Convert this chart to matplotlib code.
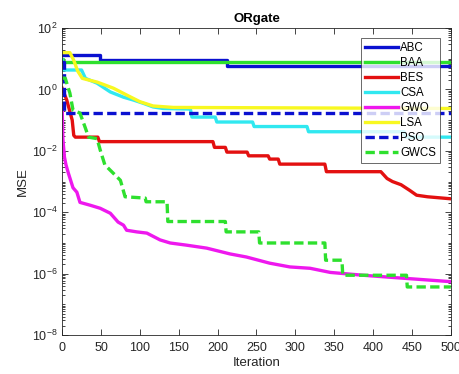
import matplotlib
matplotlib.use("Agg")
import matplotlib.pyplot as plt
import numpy as np
from matplotlib.ticker import LogLocator, FixedLocator, NullFormatter

plt.rcParams["font.family"] = ["Liberation Sans", "DejaVu Sans"]
plt.rcParams["mathtext.default"] = "regular"

# convergence curves (iteration, MSE)
abc_x = [0, 49, 212, 361, 500]
abc_y = [13, 9.2, 6.0, 5.6, 5.6]

baa_x = [0, 1, 500]
baa_y = [9.5, 7.6, 7.6]

bes_x = [0, 6, 13, 15, 17, 46, 48, 194, 196, 210, 212, 238, 240, 265, 267,
         278, 280, 338, 340, 410, 418, 425, 436, 447, 456, 470, 500]
bes_y = [1.1, 0.45, 0.1, 0.032, 0.028, 0.028, 0.02, 0.02, 0.013, 0.013,
         9.1e-3, 9.1e-3, 6.9e-3, 6.9e-3, 5.4e-3, 5.4e-3, 3.7e-3, 3.7e-3,
         2.1e-3, 2.1e-3, 1.26e-3, 1e-3, 7.9e-4, 5.2e-4, 3.6e-4, 3.2e-4, 2.75e-4]

csa_x = [0, 2, 25, 30, 45, 62, 79, 92, 105, 117, 130, 165, 167, 197, 199,
         245, 247, 315, 317, 440, 442, 500]
csa_y = [9.1, 4.3, 4.3, 2.3, 1.6, 0.83, 0.56, 0.45, 0.35, 0.27, 0.24, 0.23,
         0.126, 0.126, 0.087, 0.087, 0.062, 0.062, 0.042, 0.042, 0.028, 0.028]

gwo_x = [0, 1, 3, 5, 8, 14, 19, 23, 36, 49, 62, 72, 79, 83, 96, 109, 126,
         139, 160, 186, 216, 237, 267, 293, 319, 345, 387, 430, 500]
gwo_y = [0.32, 0.025, 6.3e-3, 3.5e-3, 1.9e-3, 6.3e-4, 4.5e-4, 2.1e-4,
         1.7e-4, 1.35e-4, 9.3e-5, 4.8e-5, 3.8e-5, 2.6e-5, 2.3e-5, 2.1e-5,
         1.26e-5, 1.0e-5, 8.5e-6, 6.8e-6, 4.4e-6, 3.5e-6, 2.2e-6, 1.66e-6,
         1.5e-6, 1.1e-6, 8.9e-7, 7.4e-7, 5.5e-7]

lsa_x = [0, 10, 15, 20, 26, 32, 45, 66, 83, 100, 117, 143, 500]
lsa_y = [15.8, 15.8, 8.9, 4.0, 2.3, 2.1, 1.74, 1.1, 0.66, 0.4, 0.29, 0.26, 0.24]

pso_x = [0, 2, 500]
pso_y = [8.0, 0.166, 0.166]

gwcs_x = [0, 4, 10, 14, 23, 30, 34, 45, 49, 55, 75, 81, 107, 108, 135, 136,
          210, 211, 253, 254, 338, 339, 360, 361, 443, 444, 500]
gwcs_y = [2.34, 2.34, 0.76, 0.214, 0.17, 0.055, 0.028, 0.025, 0.0107,
          3.5e-3, 1.1e-3, 3.2e-4, 2.9e-4, 2.2e-4, 2.2e-4, 5e-5, 5e-5, 2.3e-5,
          2.3e-5, 1e-5, 1e-5, 2.75e-6, 2.75e-6, 8.9e-7, 8.9e-7, 3.7e-7, 3.7e-7]

fig = plt.figure(figsize=(4.6, 3.74), dpi=100)
ax = fig.add_axes([0.135, 0.104, 0.845, 0.821])

lw = 2.4
dash = (2.8, 1.3)
ax.plot(abc_x, abc_y, color="#0a10d0", lw=lw, drawstyle="steps-post", label="ABC")
ax.plot(baa_x, baa_y, color="#2ee02e", lw=lw, drawstyle="steps-post", label="BAA")
ax.plot(bes_x, bes_y, color="#e31010", lw=lw, label="BES")
ax.plot(csa_x, csa_y, color="#30e8f0", lw=lw, label="CSA")
ax.plot(gwo_x, gwo_y, color="#ee18ee", lw=lw, label="GWO")
ax.plot(lsa_x, lsa_y, color="#f8f820", lw=lw, label="LSA")
ax.plot(pso_x, pso_y, color="#0a10d0", lw=lw, drawstyle="steps-post",
        dashes=dash, label="PSO")
ax.plot(gwcs_x, gwcs_y, color="#2ee02e", lw=lw, dashes=dash, label="GWCS")

ax.set_yscale("log")
ax.set_xlim(0, 500)
ax.set_ylim(1e-8, 1e2)
ax.set_xticks(np.arange(0, 501, 50))
ax.yaxis.set_major_locator(FixedLocator([1e-8, 1e-6, 1e-4, 1e-2, 1e0, 1e2]))
ax.yaxis.set_minor_locator(LogLocator(base=10, subs=np.arange(1, 10), numticks=30))
ax.yaxis.set_minor_formatter(NullFormatter())

grey = "#262626"
ax.tick_params(which="both", direction="in", top=True, right=True,
               colors=grey, labelcolor=grey, labelsize=9, width=0.6)
ax.tick_params(which="major", length=4)
ax.tick_params(which="minor", length=2)
ax.tick_params(axis="x", which="minor", top=False, bottom=False)
ax.tick_params(axis="x", pad=5)
for s in ax.spines.values():
    s.set_color(grey)
    s.set_linewidth(0.6)

ax.set_title("ORgate", fontsize=9.5, fontweight="bold", pad=4)
ax.set_xlabel("Iteration", fontsize=9.5, color=grey, labelpad=2)
ax.set_ylabel("MSE", fontsize=9.5, color=grey, labelpad=2)

leg = ax.legend(loc="upper right", bbox_to_anchor=(0.972, 0.967), fontsize=8.3,
                handlelength=2.9, handletextpad=0.15, labelspacing=0.26,
                borderpad=0.35, borderaxespad=0, frameon=True, fancybox=False)
leg.get_frame().set_edgecolor(grey)
leg.get_frame().set_linewidth(0.6)

fig.savefig("out.png", dpi=100)
